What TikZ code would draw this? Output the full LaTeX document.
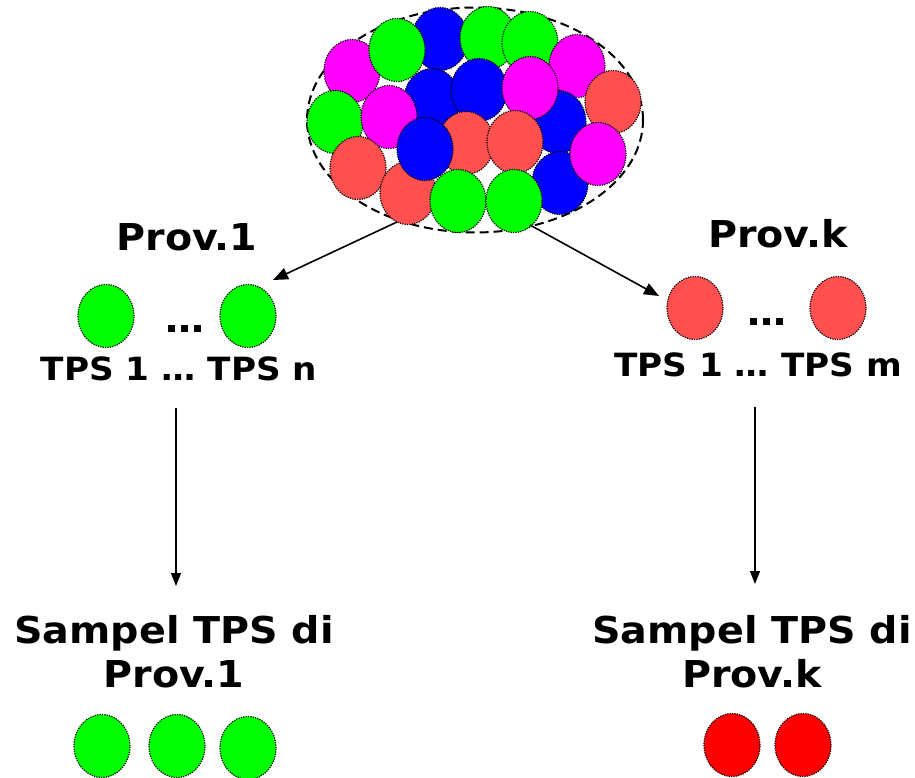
\documentclass[tikz,border=0pt]{standalone}
\usepackage{fontspec}
\setmainfont{DejaVu Sans}[FakeStretch=1.07]
\usetikzlibrary{shapes.geometric,arrows.meta}
\definecolor{cgreen}{HTML}{00FF00}
\definecolor{cblue}{HTML}{0000FF}
\definecolor{cmag}{HTML}{FF00FF}
\definecolor{csal}{HTML}{FF5050}
\definecolor{cred}{HTML}{FF0000}
\tikzset{
  ball/.style={ellipse, draw=black, dash pattern=on 1.2pt off 1.2pt, line width=1.2pt, minimum width=56pt, minimum height=63pt, inner sep=0pt},
  G/.style={ball, fill=cgreen},
  B/.style={ball, fill=cblue},
  M/.style={ball, fill=cmag},
  R/.style={ball, fill=csal},
  RR/.style={ball, fill=cred},
  lbl/.style={font=\bfseries\fontsize{37}{44}\selectfont, anchor=base, inner sep=0pt},
  tps/.style={font=\bfseries\fontsize{32}{38}\selectfont, anchor=base, inner sep=0pt},
  arr/.style={-{Triangle[length=15pt,width=12pt]}, line width=1.6pt},
  varr/.style={-{Triangle[length=13pt,width=10pt]}, line width=1.1pt},
}
\newcommand{\tightdots}{.\kern-2.5pt.\kern-2.5pt.}
\begin{document}
\begin{tikzpicture}[x=1pt,y=-1pt]
\useasboundingbox (0,0) rectangle (915,778);
% pool
\node[ellipse, draw, dash pattern=on 9pt off 5pt, line width=2pt, minimum width=336pt, minimum height=225pt, inner sep=0pt] (pool) at (475,120) {};
\node[B] (p3) at (440,39) {};
\node[G] (p4) at (488,38) {};
\node[G] (p5) at (530,43) {};
\node[M] (p1) at (352,71) {};
\node[G] (p2) at (397,50) {};
\node[M] (p6) at (577,66) {};
\node[B] (p16) at (432,100) {};
\node[B] (p17) at (479,90) {};
\node[R] (p7) at (613,102) {};
\node[B] (p19) at (558,122) {};
\node[B] (p9) at (560,183) {};
\node[M] (p18) at (530,88) {};
\node[M] (p8) at (598,154) {};
\node[G] (p14) at (335,122) {};
\node[M] (p15) at (389,117) {};
\node[R] (p13) at (358,168) {};
\node[R] (p12) at (408,193) {};
\node[R] (p21) at (466,143) {};
\node[R] (p20) at (515,142) {};
\node[B] (p22) at (425,149) {};
\node[G] (p11) at (458,201) {};
\node[G] (p10) at (514,201) {};
% labels
\node[lbl] (prov1) at (187,250) {Prov.1};
\node[lbl] (provk) at (778,247) {Prov.k};
% left province
\node[G] (l1) at (106,316) {};
\node[G] (l2) at (248,316) {};
\node[lbl] (ldots) at (185,332) {\tightdots};
\node[tps] (ltps) at (179,380) {TPS 1 … TPS n};
% right province
\node[R] (r1) at (695,308) {};
\node[R] (r2) at (838,308) {};
\node[lbl] (rdots) at (767,325) {\tightdots};
\node[tps] (rtps) at (758,376) {TPS 1 … TPS m};
% sample labels
\node[lbl] (ls1) at (174,643) {Sampel TPS di};
\node[lbl] (ls2) at (174,687) {Prov.1};
\node[lbl] (rs1) at (752,643) {Sampel TPS di};
\node[lbl] (rs2) at (752,687) {Prov.k};
% samples
\node[G] (s1) at (102,746) {};
\node[G] (s2) at (177,746) {};
\node[G] (s3) at (248,748) {};
\node[RR] (t1) at (732,745) {};
\node[RR] (t2) at (803,745) {};
% connectors
\coordinate (pa) at (397,222);
\coordinate (pb) at (530,225);
\coordinate (la) at (176,408);
\coordinate (lb) at (176,586);
\coordinate (ra) at (755,407);
\coordinate (rb) at (755,584);
\coordinate (l2t) at (273,280);
\coordinate (r1t) at (659,296);
\draw[arr] (pa) -- (l2t);
\draw[arr] (pb) -- (r1t);
\draw[varr] (la) -- (lb);
\draw[varr] (ra) -- (rb);
\end{tikzpicture}
\end{document}
